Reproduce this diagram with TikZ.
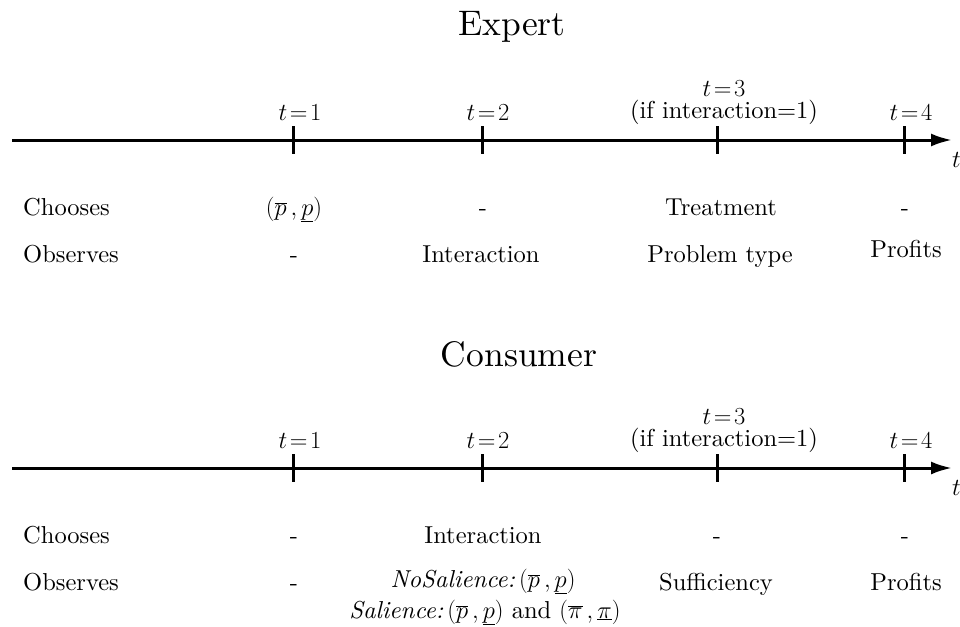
\RequirePackage{fix-cm}
\documentclass[tikz,border=0pt]{standalone}
\usepackage{fontspec}
\setmainfont{lmroman10}[Extension=.otf,UprightFont=*-regular,ItalicFont=*-italic,BoldFont=*-bold]
\usetikzlibrary{arrows.meta}
\begin{document}
\begin{tikzpicture}[x=1pt,y=-1pt,
  lbl/.style={anchor=base,inner sep=0pt,font=\fontsize{24.5}{28}\selectfont},
  twolbl/.style={anchor=south,inner sep=0pt,align=center,font=\fontsize{24.5}{22.5}\selectfont},
  rowlbl/.style={lbl,anchor=base west},
  ttl/.style={anchor=base,inner sep=0pt,font=\fontsize{35.5}{40}\selectfont},
  axisline/.style={line width=3pt,-{Latex[length=21pt,width=13pt]}},
  tickline/.style={line width=3pt}]
\useasboundingbox (0,0) rectangle (960,626);

% ---------------- Expert ----------------
\node[ttl] (etitle) at (512,36) {Expert};
\coordinate (es) at (12,140);
\coordinate (ee) at (952,140);
\draw[axisline] (es) -- (ee);
\coordinate (e1) at (293,140);
\coordinate (e2) at (482,140);
\coordinate (e3) at (717,140);
\coordinate (e4) at (904,140);
\foreach \c in {e1,e2,e3,e4} \draw[tickline] (\c) ++(0,-14) -- ++(0,28);
\node[lbl,anchor=west] (et) at (952,160) {$t$};

\node[lbl] (et1) at (300,120) {$t\mkern2mu{=}\mkern2mu1$};
\node[lbl] (et2) at (488,120) {$t\mkern2mu{=}\mkern2mu2$};
\node[twolbl] (et3) at (724,125) {$t\mkern2mu{=}\mkern2mu3$\\(if interaction=1)};
\node[lbl] (et4) at (911,120) {$t\mkern2mu{=}\mkern2mu4$};

\node[rowlbl] (ech) at (23,215) {Chooses};
\node[rowlbl] (eob) at (23,262) {Observes};
\node[lbl] (ec1) at (294,215) {$(\overline{p}\,,\underline{p})$};
\node[lbl] (ec2) at (483,215) {-};
\node[lbl] (ec3) at (721,215) {Treatment};
\node[lbl] (ec4) at (905,215) {-};
\node[lbl] (eo1) at (294,262) {-};
\node[lbl] (eo2) at (481,262) {Interaction};
\node[lbl] (eo3) at (720,262) {Problem type};
\node[lbl] (eo4) at (906,257) {Profits};

% ---------------- Consumer ----------------
\node[ttl] (ctitle) at (519,366) {Consumer};
\coordinate (cs) at (12,468);
\coordinate (ce) at (952,468);
\draw[axisline] (cs) -- (ce);
\coordinate (c1) at (293,468);
\coordinate (c2) at (482,468);
\coordinate (c3) at (717,468);
\coordinate (c4) at (904,468);
\foreach \c in {c1,c2,c3,c4} \draw[tickline] (\c) ++(0,-14) -- ++(0,28);
\node[lbl,anchor=west] (ct) at (952,488) {$t$};

\node[lbl] (ct1) at (300,448) {$t\mkern2mu{=}\mkern2mu1$};
\node[lbl] (ct2) at (488,448) {$t\mkern2mu{=}\mkern2mu2$};
\node[twolbl] (ct3) at (724,453) {$t\mkern2mu{=}\mkern2mu3$\\(if interaction=1)};
\node[lbl] (ct4) at (911,448) {$t\mkern2mu{=}\mkern2mu4$};

\node[rowlbl] (cch) at (23,543) {Chooses};
\node[rowlbl] (cob) at (23,590) {Observes};
\node[lbl] (cc1) at (294,543) {-};
\node[lbl] (cc2) at (483,543) {Interaction};
\node[lbl] (cc3) at (717,543) {-};
\node[lbl] (cc4) at (905,543) {-};
\node[lbl] (co1) at (294,590) {-};
\node[lbl] (co2a) at (483,587) {\textit{NoSalience:}$\,(\overline{p}\,,\underline{p})$};
\node[lbl] (co2b) at (485,618) {\textit{Salience:}$\,(\overline{p}\,,\underline{p})$ and $(\overline{\pi}\,,\underline{\pi})$};
\node[lbl] (co3) at (716,590) {Sufficiency};
\node[lbl] (co4) at (906,590) {Profits};
\end{tikzpicture}
\end{document}
